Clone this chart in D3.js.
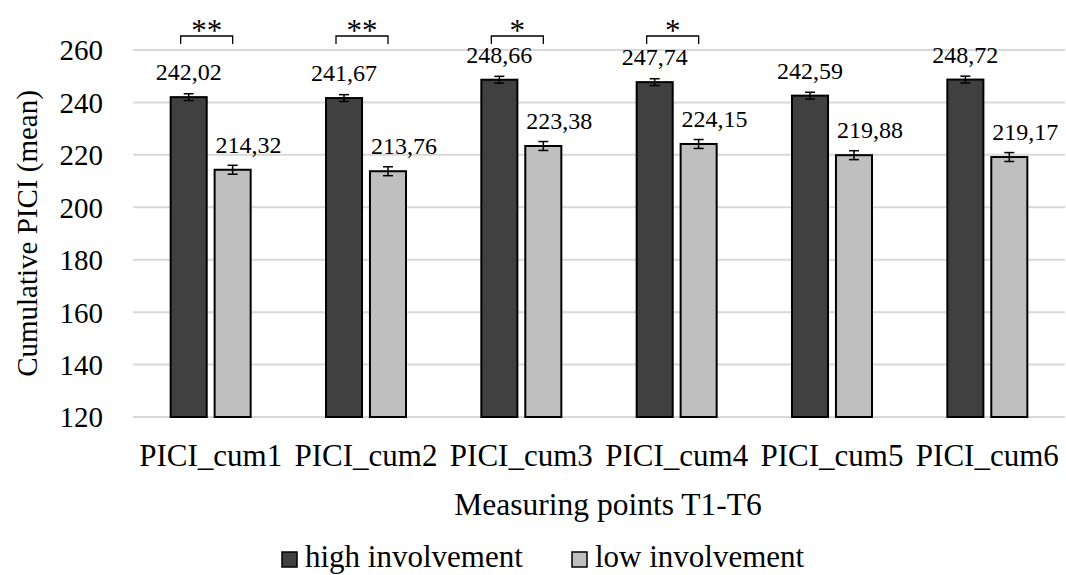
<!DOCTYPE html>
<html>
<head>
<meta charset="utf-8">
<script src="https://cdn.jsdelivr.net/npm/d3@7"></script>
<style>
  body { margin: 0; background: #fff; }
  svg text { font-family: "Liberation Serif", Tinos, "Times New Roman", Times, "DejaVu Serif", serif !important; fill: #000; }
</style>
</head>
<body>
<script>
const SvgWidth = 1066, SvgHeight = 575;
var margin = {top: 50, right: 1, bottom: 158, left: 133};
var Width = SvgWidth - margin.left - margin.right;
var Height = SvgHeight - margin.top - margin.bottom;

// data
var categories = ["PICI_cum1", "PICI_cum2", "PICI_cum3", "PICI_cum4", "PICI_cum5", "PICI_cum6"];
var seriesNames = ["high involvement", "low involvement"];
var highValues = [242.02, 241.67, 248.66, 247.74, 242.59, 248.72];
var lowValues = [214.32, 213.76, 223.38, 224.15, 219.88, 219.17];
var highErr = [1.3, 1.3, 1.3, 1.3, 1.3, 1.3];
var lowErr = [1.7, 1.7, 1.7, 1.7, 1.7, 1.7];
var signif = ["**", "**", "*", "*", "", ""];
var yTicks = [120, 140, 160, 180, 200, 220, 240, 260];
var colors = ["#404040", "#bfbfbf"];

var svg = d3.select('body')
	.append('svg')
	.attr('width', SvgWidth)
	.attr('height', SvgHeight)
	.style('background-color', 'white');
var g = svg.append('g')
	.attr("transform", 'translate(' + margin.left + "," + margin.top + ")");

var x0 = d3.scaleBand().domain(categories).range([0, Width]).paddingInner(0.485).paddingOuter(0.2425);
var x1 = d3.scaleBand().domain([0, 1]).range([0, x0.bandwidth()]).paddingInner(0.18);
var y = d3.scaleLinear().domain([120, 260]).range([Height, 0]);

// gridlines
g.selectAll(".grid")
	.data(yTicks)
	.enter().append("line")
	.attr("x1", 0).attr("x2", Width)
	.attr("y1", function(d) { return y(d); })
	.attr("y2", function(d) { return y(d); })
	.attr("stroke", "#d9d9d9")
	.attr("stroke-width", 2);

// y axis labels
var yAxis = g.append("g")
	.call(d3.axisLeft(y).tickValues(yTicks).tickSize(0).tickPadding(30));
yAxis.attr("font-family", null).attr("font-size", 29);
yAxis.select(".domain").remove();
yAxis.selectAll("text").attr("dy", "0.34em");

// x axis labels
var xAxis = g.append("g")
	.attr("transform", "translate(0," + Height + ")")
	.call(d3.axisBottom(x0).tickSize(0).tickPadding(27));
xAxis.attr("font-family", null).attr("font-size", 31);
xAxis.select(".domain").remove();

var rows = categories.map(function(c, i) {
	return [
		{cat: c, s: 0, v: highValues[i], e: highErr[i]},
		{cat: c, s: 1, v: lowValues[i], e: lowErr[i]}
	];
});

var groups = g.selectAll(".cat")
	.data(rows)
	.enter().append("g")
	.attr("transform", function(d) { return "translate(" + x0(d[0].cat) + ",0)"; });

var bars = groups.selectAll(".bar")
	.data(function(d) { return d; })
	.enter();

bars.append("rect")
	.attr("x", function(d) { return x1(d.s); })
	.attr("y", function(d) { return y(d.v); })
	.attr("width", x1.bandwidth())
	.attr("height", function(d) { return Height - y(d.v); })
	.attr("fill", function(d) { return colors[d.s]; })
	.attr("stroke", "#000")
	.attr("stroke-width", 2);

// error bars
var err = bars.append("g")
	.attr("stroke", "#000")
	.attr("stroke-width", 1.5);
err.append("line")
	.attr("x1", function(d) { return x1(d.s) + x1.bandwidth() / 2; })
	.attr("x2", function(d) { return x1(d.s) + x1.bandwidth() / 2; })
	.attr("y1", function(d) { return y(d.v + d.e); })
	.attr("y2", function(d) { return y(d.v - d.e); });
err.append("line")
	.attr("x1", function(d) { return x1(d.s) + x1.bandwidth() / 2 - 5; })
	.attr("x2", function(d) { return x1(d.s) + x1.bandwidth() / 2 + 5; })
	.attr("y1", function(d) { return y(d.v + d.e); })
	.attr("y2", function(d) { return y(d.v + d.e); });
err.append("line")
	.attr("x1", function(d) { return x1(d.s) + x1.bandwidth() / 2 - 5; })
	.attr("x2", function(d) { return x1(d.s) + x1.bandwidth() / 2 + 5; })
	.attr("y1", function(d) { return y(d.v - d.e); })
	.attr("y2", function(d) { return y(d.v - d.e); });

// value labels: high centred on its bar, low starting at its bar's left edge
bars.append("text")
	.attr("x", function(d) { return d.s === 0 ? x1(d.s) + x1.bandwidth() / 2 : x1(d.s) + 1; })
	.attr("y", function(d) { return y(d.v) - 17; })
	.attr("text-anchor", function(d) { return d.s === 0 ? "middle" : "start"; })
	.attr("font-size", 24)
	.text(function(d) { return d.v.toFixed(2).replace(".", ","); });

// significance brackets
var sig = groups.filter(function(d, i) { return signif[i] !== ""; });
sig.append("path")
	.attr("fill", "none")
	.attr("stroke", "#000")
	.attr("stroke-width", 1.3)
	.attr("d", function() {
		var a = x1(0) + 10, b = x1(1) + x1.bandwidth() - 18;
		var top = y(260) - 14, bot = y(260) - 6;
		return "M" + a + "," + bot + "V" + top + "H" + b + "V" + bot;
	});
sig.append("text")
	.attr("x", (x1(0) + 10 + x1(1) + x1.bandwidth() - 18) / 2)
	.attr("y", y(260) - 9)
	.attr("text-anchor", "middle")
	.attr("font-size", 31)
	.text(function(d) { return signif[categories.indexOf(d[0].cat)]; });

// axis titles
svg.append("text")
	.attr("transform", "translate(37," + (margin.top + Height / 2) + ") rotate(-90)")
	.attr("text-anchor", "middle")
	.attr("font-size", 29)
	.text("Cumulative PICI (mean)");

svg.append("text")
	.attr("x", 608)
	.attr("y", 515)
	.attr("text-anchor", "middle")
	.attr("font-size", 31.5)
	.text("Measuring points T1-T6");

// legend
var legendX = [282, 572];
var legend = svg.selectAll(".legend")
	.data(seriesNames)
	.enter().append("g")
	.attr("transform", function(d, i) { return "translate(" + legendX[i] + ",552)"; });
legend.append("rect")
	.attr("width", 15).attr("height", 15)
	.attr("fill", function(d, i) { return colors[i]; })
	.attr("stroke", "#000")
	.attr("stroke-width", 1.5);
legend.append("text")
	.attr("x", 23)
	.attr("y", 15)
	.attr("font-size", 31)
	.text(function(d) { return d; });
</script>
</body>
</html>
